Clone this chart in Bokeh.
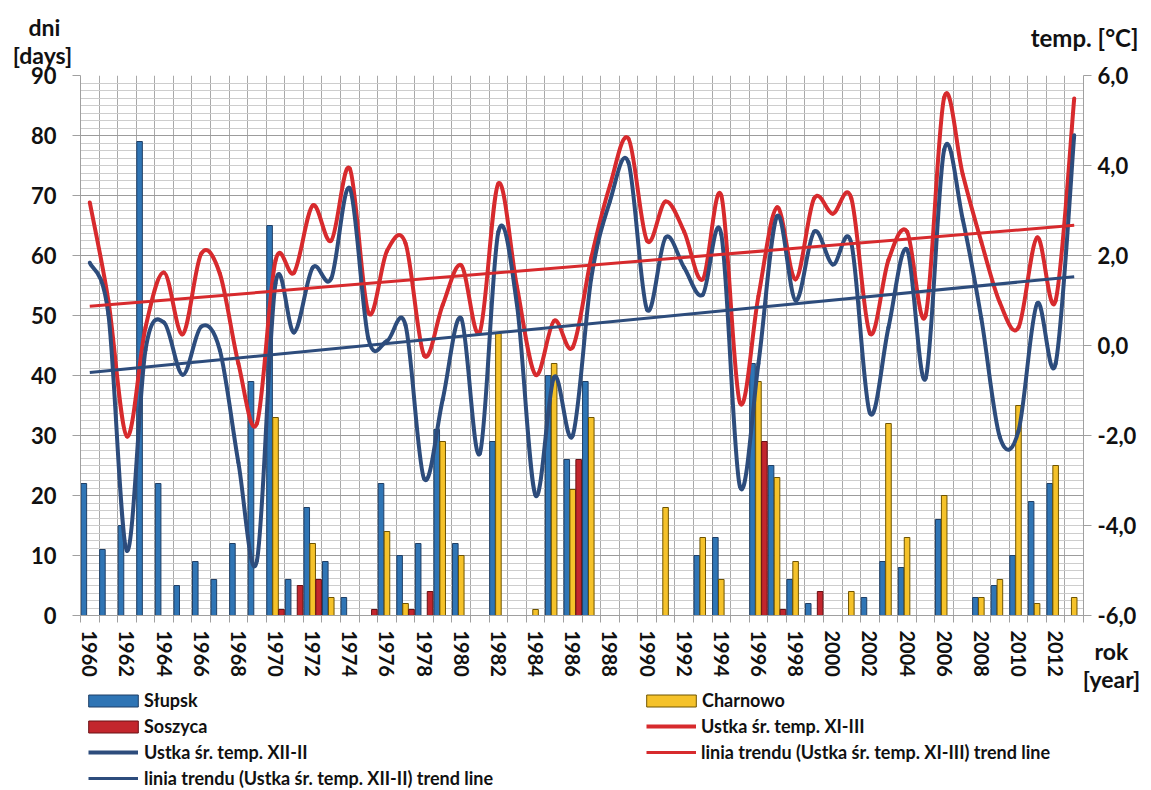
from bokeh.plotting import figure
from bokeh.layouts import column
from bokeh.models import (Range1d, LinearAxis, FixedTicker, Legend, LegendItem,
                          Label, ColumnDataSource, CustomJSTickFormatter)
from bokeh.transform import dodge
from bokeh.embed import file_html
from bokeh.resources import INLINE

# ---------------- data ----------------
years = list(range(1960, 2014))

slupsk = [22, 11, 15, 79, 22, 5, 9, 6, 12, 39,
          65, 6, 18, 9, 3, 0, 22, 10, 12, 31,
          12, 0, 29, 0, 0, 40, 26, 39, 0, 0,
          0, 0, 0, 10, 13, 0, 42, 25, 6, 2,
          0, 0, 3, 9, 8, 0, 16, 0, 3, 5,
          10, 19, 22, 0]
charnowo = [0, 0, 0, 0, 0, 0, 0, 0, 0, 0,
            33, 0, 12, 3, 0, 0, 14, 2, 0, 29,
            10, 0, 47, 0, 1, 42, 21, 33, 0, 0,
            0, 18, 0, 13, 6, 0, 39, 23, 9, 0,
            0, 4, 0, 32, 13, 0, 20, 0, 3, 6,
            35, 2, 25, 3]
soszyca = [0, 0, 0, 0, 0, 0, 0, 0, 0, 0,
           1, 5, 6, 0, 0, 1, 0, 1, 4, 0,
           0, 0, 0, 0, 0, 0, 26, 0, 0, 0,
           0, 0, 0, 0, 0, 0, 29, 1, 0, 4,
           0, 0, 0, 0, 0, 0, 0, 0, 0, 0,
           0, 0, 0, 0]
temp_xi_iii = [3.18, 1.00, -2.02, 0.40, 1.62, 0.25, 2.04, 1.60, -0.40, -1.73,
               1.89, 1.62, 3.11, 2.33, 3.93, 0.73, 2.10, 2.27, -0.22, 0.90,
               1.78, 0.30, 3.60, 1.30, -0.65, 0.55, -0.04, 1.95, 3.55, 4.60,
               2.33, 3.20, 2.53, 1.47, 3.33, -1.27, 1.10, 3.07, 1.47, 3.27,
               2.93, 3.27, 0.27, 1.90, 2.53, 0.67, 5.51, 3.80, 2.30, 0.95,
               0.40, 2.40, 1.00, 5.49]
temp_xii_ii = [1.84, 0.70, -4.56, -0.10, 0.51, -0.65, 0.42, -0.10, -2.60, -4.78,
               1.38, 0.29, 1.73, 1.49, 3.49, 0.15, 0.10, 0.45, -2.96, -1.20,
               0.60, -2.40, 2.53, 0.90, -3.33, -0.70, -2.00, 1.50, 3.20, 4.07,
               0.80, 2.40, 1.73, 1.13, 2.47, -3.13, -0.40, 2.87, 1.00, 2.53,
               1.80, 2.27, -1.50, 0.40, 2.13, -0.73, 4.35, 2.80, 0.60, -2.04,
               -1.90, 0.93, -0.40, 4.67]
trend_years = [1960, 2013]
trend_xi_iii = [0.87, 2.67]
trend_xii_ii = [-0.60, 1.53]

days_ticks = list(range(0, 91, 10))
temp_ticks = [-6, -4, -2, 0, 2, 4, 6]
year_label_ticks = list(range(1960, 2013, 2))

# ---------------- style ----------------
FONT = "Lato"
TXT = "#111111"
C_SLUPSK, C_SLUPSK_L = "#2f75b5", "#1f3f66"
C_SOSZ, C_SOSZ_L = "#c3262d", "#6a1014"
C_CHAR, C_CHAR_L = "#f5c22a", "#6f5400"
C_RED = "#d72a2d"
C_BLUE = "#2d4c7c"
AX = "#a0a0a0"

W, H = 1151, 790
FL, FR, FT, FB = 80, 1083, 75, 615          # plot frame (page pixels)

p = figure(width=W, height=H, output_backend="svg", toolbar_location=None,
           x_range=Range1d(1959.5, 2013.5), y_range=Range1d(0, 90),
           min_border_left=FL, min_border_right=W - FR, min_border_top=FT,
           min_border_bottom=H - FB)
p.outline_line_color = None
p.extra_y_ranges = {"temp": Range1d(-6, 6)}

# grids
half = [y - 0.5 for y in years] + [years[-1] + 0.5]
p.xgrid.ticker = FixedTicker(ticks=half)
p.xgrid.grid_line_color = "#a9a9a9"
p.ygrid.ticker = FixedTicker(ticks=days_ticks,
                             minor_ticks=[i * 1.25 for i in range(73)])
p.ygrid.grid_line_color = "#9c9c9c"
p.ygrid.minor_grid_line_color = "#cdcdcd"

def style_axis(ax, size):
    ax.major_label_text_font = FONT
    ax.major_label_text_font_style = "bold"
    ax.major_label_text_font_size = size
    ax.major_label_text_color = TXT
    ax.axis_line_color = AX
    ax.major_tick_line_color = AX
    ax.minor_tick_line_color = None

p.xaxis.ticker = FixedTicker(ticks=year_label_ticks, minor_ticks=half)
style_axis(p.xaxis[0], "20px")
p.xaxis.major_tick_line_color = None
p.xaxis.minor_tick_line_color = AX
p.xaxis.minor_tick_out = 7
p.xaxis.minor_tick_in = 0
p.xaxis.major_label_orientation = "vertical"
p.xaxis.major_label_standoff = 8

p.yaxis.ticker = FixedTicker(ticks=days_ticks)
style_axis(p.yaxis[0], "22px")
p.yaxis.major_tick_out = 8
p.yaxis.major_tick_in = 0
p.yaxis.major_label_standoff = 16

right = LinearAxis(y_range_name="temp", ticker=FixedTicker(ticks=temp_ticks),
                   formatter=CustomJSTickFormatter(code="return tick.toFixed(1).replace('.', ',')"))
style_axis(right, "22px")
right.major_tick_out = 8
right.major_tick_in = 0
right.major_label_standoff = 6
p.add_layout(right, "right")

# bars
def bar_source(vals):
    xs = [y for y, v in zip(years, vals) if v > 0]
    tops = [v for v in vals if v > 0]
    return ColumnDataSource(dict(x=xs, top=tops))

BW, OFF = 0.30, 0.32
bar_sl = dict(fill_color=C_SLUPSK, line_color=C_SLUPSK_L, line_width=1)
bar_ch = dict(fill_color=C_CHAR, line_color=C_CHAR_L, line_width=1)
bar_so = dict(fill_color=C_SOSZ, line_color=C_SOSZ_L, line_width=1)
p.vbar(x=dodge("x", -OFF, range=p.x_range), top="top", width=BW, source=bar_source(slupsk), **bar_sl)
p.vbar(x=dodge("x", 0.0, range=p.x_range), top="top", width=BW, source=bar_source(charnowo), **bar_ch)
p.vbar(x=dodge("x", OFF, range=p.x_range), top="top", width=BW, source=bar_source(soszyca), **bar_so)

# smoothed lines (Catmull-Rom -> cubic Bezier, like a spreadsheet "smoothed line")
def bezier_source(xs, ys):
    n = len(xs)
    d = {k: [] for k in ("x0", "y0", "x1", "y1", "cx0", "cy0", "cx1", "cy1")}
    for i in range(n - 1):
        a = max(i - 1, 0)
        b = min(i + 2, n - 1)
        d["x0"].append(xs[i]); d["y0"].append(ys[i])
        d["x1"].append(xs[i + 1]); d["y1"].append(ys[i + 1])
        d["cx0"].append(xs[i] + (xs[i + 1] - xs[a]) / 6.0)
        d["cy0"].append(ys[i] + (ys[i + 1] - ys[a]) / 6.0)
        d["cx1"].append(xs[i + 1] - (xs[b] - xs[i]) / 6.0)
        d["cy1"].append(ys[i + 1] - (ys[b] - ys[i]) / 6.0)
    return ColumnDataSource(d)

line_red = dict(line_color=C_RED, line_width=4)
line_blue = dict(line_color=C_BLUE, line_width=4)
bz = dict(x0="x0", y0="y0", x1="x1", y1="y1", cx0="cx0", cy0="cy0", cx1="cx1", cy1="cy1")
p.bezier(**bz, source=bezier_source(years, temp_xi_iii), y_range_name="temp", line_cap="round", **line_red)
p.bezier(**bz, source=bezier_source(years, temp_xii_ii), y_range_name="temp", line_cap="round", **line_blue)
p.line(trend_years, trend_xi_iii, y_range_name="temp", line_color=C_RED, line_width=3)
p.line(trend_years, trend_xii_ii, y_range_name="temp", line_color=C_BLUE, line_width=3)

# ------------- transparent overlay for titles and legend -------------
# its data coordinates equal page pixels (frame spans x 80..1083, y OT..790)
OT = 500
ov = figure(width=W, height=H, output_backend="svg", toolbar_location=None,
            x_range=Range1d(FL, FR), y_range=Range1d(H, OT),
            x_axis_type=None, y_axis_type=None,
            min_border_left=FL, min_border_right=W - FR, min_border_top=OT,
            min_border_bottom=0,
            styles={"position": "absolute", "top": "0px", "left": "0px"})
ov.outline_line_color = None
ov.background_fill_alpha = 0
ov.border_fill_alpha = 0

NAN = float("nan")
s_sl = ov.vbar(x=[NAN], top=[NAN], width=1, **bar_sl)
s_ch = ov.vbar(x=[NAN], top=[NAN], width=1, **bar_ch)
s_so = ov.vbar(x=[NAN], top=[NAN], width=1, **bar_so)
s_red = ov.line(x=[NAN], y=[NAN], **line_red)
s_blue = ov.line(x=[NAN], y=[NAN], **line_blue)
s_tred = ov.line(x=[NAN], y=[NAN], line_color=C_RED, line_width=3)
s_tblue = ov.line(x=[NAN], y=[NAN], line_color=C_BLUE, line_width=3)

def make_legend(items, gw, gh, standoff, x, y):
    lg = Legend(items=items, location=(x, y), orientation="vertical",
                glyph_width=gw, glyph_height=gh, label_height=22,
                label_standoff=standoff, spacing=4, padding=0, margin=0,
                border_line_color=None, background_fill_alpha=0,
                label_text_font=FONT, label_text_font_style="bold",
                label_text_font_size="18px", label_text_color=TXT)
    ov.add_layout(lg, "center")

make_legend([LegendItem(label="Słupsk", renderers=[s_sl]),
             LegendItem(label="Soszyca", renderers=[s_so])], 62, 15, 0, 2, 53)
make_legend([LegendItem(label="Ustka śr. temp. XII-II", renderers=[s_blue]),
             LegendItem(label="linia trendu (Ustka śr. temp. XII-II) trend line", renderers=[s_tblue])],
            50, 22, 6, 8, 1)
make_legend([LegendItem(label="Charnowo", renderers=[s_ch])], 62, 15, 0, 560, 79)
make_legend([LegendItem(label="Ustka śr. temp. XI-III", renderers=[s_red]),
             LegendItem(label="linia trendu (Ustka śr. temp. XI-III) trend line", renderers=[s_tred])],
            50, 22, 5, 566, 27)

def title(text, x, y, align, size="23px"):
    ov.add_layout(Label(x=x, y=y, text=text, text_align=align, text_baseline="middle",
                        text_font=FONT, text_font_style="bold", text_font_size=size,
                        text_color=TXT), "above")

title("dni", 44, 26, "center")
title("[days]", 42, 54, "center")
title("temp. [°C]", 1138, 37, "right", "24px")
title("rok", 1111, 650, "center")
title("[year]", 1111, 678, "center")

open("out.html", "w").write(file_html(column(p, ov), INLINE))
